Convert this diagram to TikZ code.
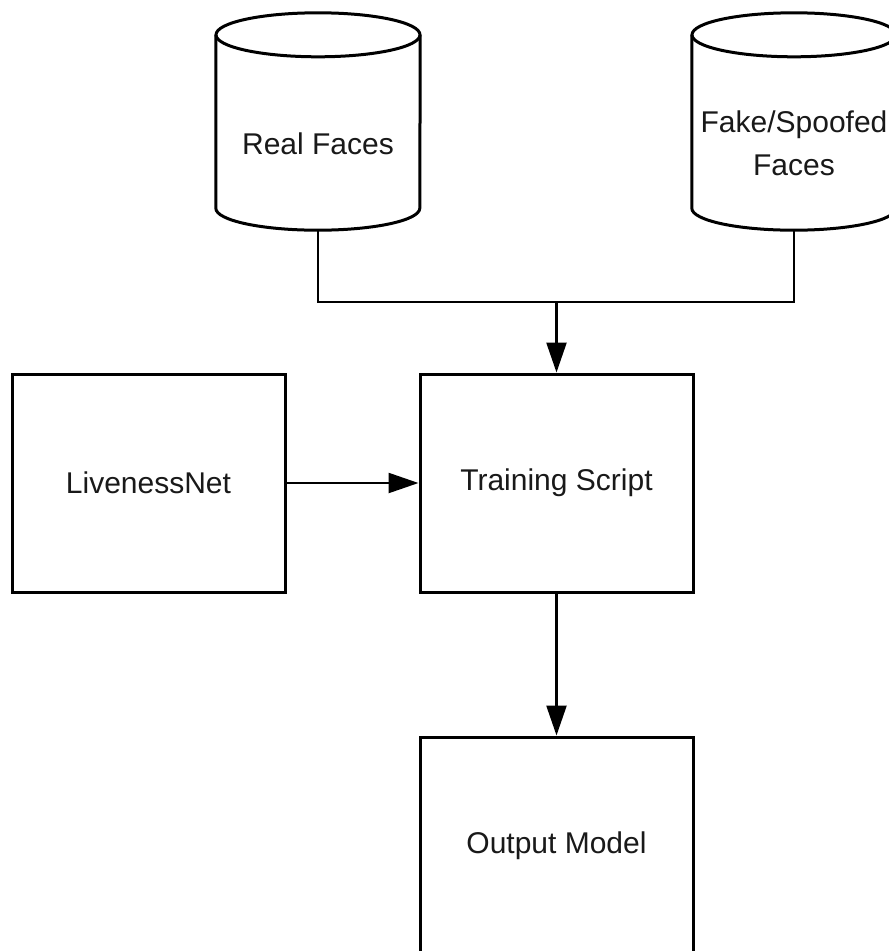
\documentclass[tikz,border=0pt]{standalone}
\usepackage{fontspec}
\setmainfont{Liberation Sans}
\usetikzlibrary{arrows.meta,positioning}

\tikzset{
  boxline/.style={line width=3pt, draw=black},
  stagebox/.style={boxline, rectangle, minimum width=273pt, minimum height=218pt,
                   inner sep=0pt, font=\fontsize{30}{42}\selectfont, text=black!90, align=center},
  dbbody/.style={rectangle, minimum width=204pt, minimum height=173pt, inner sep=0pt,
                 font=\fontsize{30}{43}\selectfont, text=black!90, align=center},
  conn/.style={line width=2.4pt, draw=black},
  flow/.style={conn, -{Triangle[length=30pt,width=20pt]}},
}

% outline of a database cylinder around a body node
\newcommand{\dbcylinder}[1]{%
  \draw[boxline] ([yshift=22pt]#1.north west) -- ([yshift=22pt]#1.south west)
    arc[start angle=180, end angle=360, x radius=102pt, y radius=22pt]
    -- ([yshift=22pt]#1.north east);
  \draw[boxline] ([yshift=22pt]#1.north) ellipse[x radius=102pt, y radius=22pt];
}

\begin{document}
\begin{tikzpicture}[x=1pt,y=-1pt]
  \useasboundingbox (0,0) rectangle (889,951);
  \fill[white] (0,0) rectangle (889,951);

  % data sources
  \node[dbbody] (real) at (318,143.5) {Real Faces};
  \node[dbbody] (fake) at (794,143.5) {Fake/Spoofed\\Faces};
  \dbcylinder{real}
  \dbcylinder{fake}

  % processing stages
  \node[stagebox] (net)   at (148.5,483) {LivenessNet};
  \node[stagebox] (train) at (556.5,483) {Training Script};
  \node[stagebox] (out)   at (556.5,846) {Output Model};

  % connectors
  \coordinate (join) at (556.5,302);
  \draw[conn] (real.south) |- (join) -| (fake.south);
  \draw[flow] (join) -- (train.north);
  \draw[flow] (net.east) -- (train.west);
  \draw[flow] (train.south) -- (out.north);
\end{tikzpicture}
\end{document}
